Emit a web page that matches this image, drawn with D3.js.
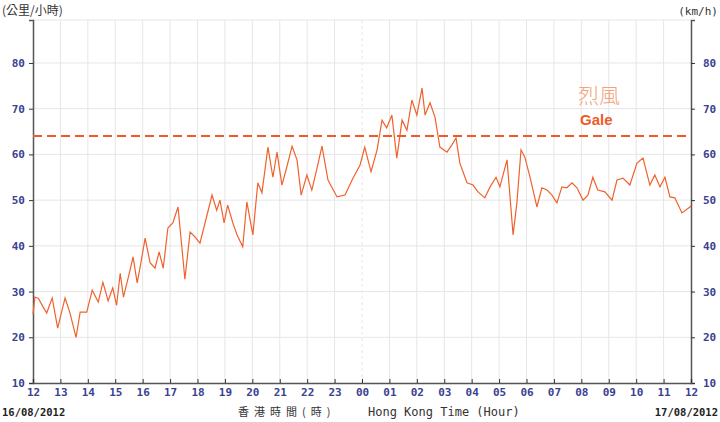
<!DOCTYPE html>
<html><head><meta charset="utf-8">
<script src="https://cdn.jsdelivr.net/npm/d3@7"></script>
<style>body{margin:0;background:#fff}svg text{font-family:"DejaVu Sans Mono",monospace}</style>
</head><body><svg id="c" width="720" height="422"></svg>
<script>
// hours since 12:00 on 16/08/2012
const hours = [0,0.07,0.2,0.37,0.5,0.7,0.9,1.17,1.35,1.57,1.72,1.96,2.16,2.38,2.55,2.74,2.91,3.05,3.18,3.3,3.54,3.65,3.8,3.9,4.09,4.27,4.45,4.6,4.75,4.92,5.1,5.29,5.43,5.54,5.73,5.9,6.09,6.35,6.53,6.7,6.82,6.97,7.1,7.29,7.44,7.65,7.8,8.02,8.2,8.35,8.57,8.75,8.9,9.08,9.26,9.45,9.63,9.78,9.99,10.17,10.36,10.54,10.76,11.09,11.38,11.67,11.93,12.1,12.33,12.55,12.73,12.9,13.09,13.27,13.46,13.64,13.82,14,14.19,14.3,14.48,14.66,14.84,15.1,15.28,15.43,15.57,15.83,16.05,16.23,16.48,16.67,16.89,17.03,17.29,17.4,17.51,17.65,17.8,17.94,18.13,18.38,18.56,18.75,18.93,19.11,19.29,19.47,19.66,19.84,20.06,20.24,20.42,20.6,20.86,21.12,21.3,21.52,21.77,22.03,22.25,22.5,22.68,22.87,23.05,23.23,23.41,23.67,23.96,24];
const speeds = [25,28.8,28.5,26.6,25.3,28.6,22,28.6,25.3,20,25.5,25.5,30.3,27.7,32,28,30.8,27,34,28.8,34.7,37.6,31.9,35.1,41.7,36.3,35.1,38.7,35.1,43.9,45,48.5,39.7,32.7,43,42,40.6,46.8,51.1,47.8,50,45,48.9,45,42.4,39.8,49.6,42.4,53.8,51.6,61.6,55,60.5,53.3,57.3,61.8,58.8,51.1,55.5,52.2,57,61.8,54.4,50.7,51.1,54.8,57.7,61.6,56.2,61,67.5,65.8,68.6,59.2,67.5,65.3,71.9,68.6,74.5,68.6,71.3,68.2,61.6,60.5,62.1,63.6,58.1,53.8,53.3,51.8,50.5,52.9,55,52.9,58.8,50.7,42.4,49.4,61,59.4,55,48.5,52.7,52.2,51.1,49.4,52.9,52.7,53.8,52.7,50,51.1,55,52.2,51.8,50,54.4,54.8,53.3,58.1,59.2,53.3,55.5,52.9,55,50.7,50.5,47.2,48.5,48.8];
const hourLabels = ["12","13","14","15","16","17","18","19","20","21","22","23","00","01","02","03","04","05","06","07","08","09","10","11","12"];
const yTicks = [10,20,30,40,50,60,70,80];
const galeLevel = 64;

const svg = d3.select("#c");
const L = 33, R = 691, T = 20, B = 383;
const x = d3.scaleLinear().domain([0, 24]).range([L, R]);
const y = d3.scaleLinear().domain([10, 89.4]).range([B, T]);
const blue = "#3a4290";

// grid
svg.append("g").selectAll("line").data(d3.range(1, 24)).join("line")
  .attr("x1", d => x(d)).attr("x2", d => x(d)).attr("y1", T).attr("y2", B)
  .attr("stroke", "#e6e6e6").attr("stroke-dasharray", d => d === 12 ? "3,3" : null);
svg.append("g").selectAll("line").data(yTicks.slice(1).concat([89.4])).join("line")
  .attr("x1", L).attr("x2", R).attr("y1", d => y(d)).attr("y2", d => y(d)).attr("stroke", "#e6e6e6");

// axes
const axL = svg.append("g").attr("transform", `translate(${L},0)`)
  .call(d3.axisLeft(y).tickValues(yTicks).tickSize(4).tickPadding(8));
const axR = svg.append("g").attr("transform", `translate(${R},0)`)
  .call(d3.axisRight(y).tickValues(yTicks).tickSize(4).tickPadding(8));
const axB = svg.append("g").attr("transform", `translate(0,${B})`)
  .call(d3.axisBottom(x).tickValues(d3.range(0, 25)).tickFormat(i => hourLabels[i]).tickSize(-4).tickPadding(5));
[axL, axR, axB].forEach(a => {
  a.select(".domain").attr("stroke", "#555").attr("stroke-width", 1.5);
  a.selectAll(".tick line").attr("stroke", "#333");
  a.selectAll("text").attr("fill", blue).attr("font-size", 11).attr("font-weight", "bold")
    .style("font-family", "'DejaVu Sans Mono',monospace");
});
axL.selectAll("text").attr("dx", 4);

// gale line
svg.append("line").attr("x1", L).attr("x2", R).attr("y1", y(galeLevel)).attr("y2", y(galeLevel))
  .attr("stroke", "#f05a28").attr("stroke-width", 2).attr("stroke-dasharray", "9,5");

// wind line
svg.append("path").datum(hours.map((h, i) => [h, speeds[i]]))
  .attr("fill", "none").attr("stroke", "#f0622d").attr("stroke-width", 1.2)
  .attr("d", d3.line().x(d => x(d[0])).y(d => y(d[1])));

// texts
svg.append("text").attr("x", 2).attr("y", 15).attr("font-size", 12).attr("fill", "#333")
  .style("font-family", "'Noto Sans CJK TC'").text("(公里/小時)");
svg.append("text").attr("x", 718).attr("y", 15).attr("text-anchor", "end").attr("font-size", 11).attr("fill", "#333").text("(km/h)");
svg.append("text").attr("x", 578).attr("y", 103).attr("font-size", 21).attr("fill", "#f4a078")
  .style("font-family", "'Noto Sans CJK TC'").style("font-weight", 300).text("烈風");
svg.append("text").attr("x", 580).attr("y", 125).attr("font-size", 15).attr("font-weight", "bold").attr("fill", "#f05a28")
  .style("font-family", "'Liberation Sans',Arial").text("Gale");
svg.append("text").attr("x", 2).attr("y", 416).attr("font-size", 10.5).attr("font-weight", "bold").attr("fill", "#222").text("16/08/2012");
svg.append("text").attr("x", 718).attr("y", 416).attr("text-anchor", "end").attr("font-size", 10.5).attr("font-weight", "bold").attr("fill", "#222").text("17/08/2012");
svg.append("text").attr("x", 238).attr("y", 416).attr("font-size", 11).attr("letter-spacing", 5).attr("fill", "#333")
  .style("font-family", "'Noto Sans CJK TC'").text("香港時間(時)");
svg.append("text").attr("x", 368).attr("y", 416).attr("font-size", 12).attr("fill", "#333").text("Hong Kong Time (Hour)");
</script></body></html>
